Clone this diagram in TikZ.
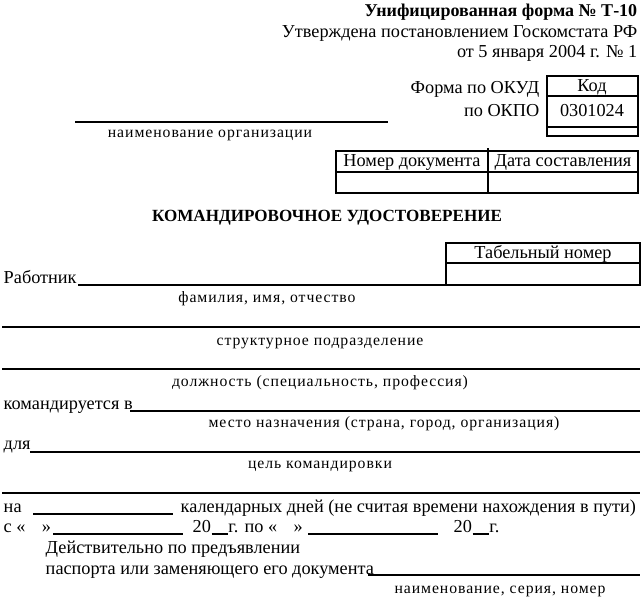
\documentclass[tikz,border=0pt]{standalone}
\usepackage{fontspec}
\setmainfont{Liberation Serif}
\newfontfamily\hintfont[LetterSpace=6]{Liberation Serif}
\usetikzlibrary{positioning}
\begin{document}
\begin{tikzpicture}[x=0.75pt,y=-0.75pt,line width=1.1pt,
        every node/.style={inner sep=0pt,font=\fontsize{13.7}{16}\selectfont}]
        \tikzstyle{hint}=[font=\hintfont\fontsize{11.8}{13}\selectfont]
        \tikzstyle{head}=[font=\bfseries\fontsize{13.5}{16}\selectfont]
        \tikzstyle{cell}=[line width=1.6pt]
        \useasboundingbox (0,0) rectangle (642,601);
        \node[head,anchor=base east](H1) at (638,16){Унифицированная форма № Т-10};
        \node[anchor=base east](H2) at (638,37){Утверждена постановлением Госкомстата РФ};
        \node[anchor=base east](H3) at (638,57){от 5 января 2004 г. № 1};
        \node[anchor=base east](okud) at (540,93){Форма по ОКУД};
        \node[anchor=base east](okpo) at (540,116){по ОКПО};
        \draw[cell] (547,76) rectangle (638,136);
        \draw[cell] (547,96) -- (638,96);
        \draw[cell] (547,127) -- (638,127);
        \node[anchor=base](kod) at (592,91){Код};
        \node[anchor=base](code) at (592,116){0301024};
        \draw[line width=2pt] (75,122) -- (388,122);
        \node[hint,anchor=base](org) at (210,137){наименование организации};
        \draw[cell] (336,151) rectangle (638,193);
        \draw[cell] (336,172) -- (638,172);
        \draw[cell] (488,148) -- (488,193);
        \node[anchor=base](docno) at (412,166){Номер документа};
        \node[anchor=base](docdate) at (563,166){Дата составления};
        \node[head,anchor=base,font=\bfseries\fontsize{12.8}{15}\selectfont](title) at (327,221){КОМАНДИРОВОЧНОЕ УДОСТОВЕРЕНИЕ};
        \draw[cell] (446,243) rectangle (640,285);
        \draw[cell] (446,263) -- (640,263);
        \node[anchor=base](tabno) at (543,258){Табельный номер};
        \node[anchor=base west](worker) at (3,283){Работник};
        \draw (78,285) -- (446,285);
        \node[hint,anchor=base](fio) at (267,302){фамилия, имя, отчество};
        \draw (2,327) -- (640,327);
        \node[hint,anchor=base](unit) at (320,345){структурное подразделение};
        \draw (2,369) -- (640,369);
        \node[hint,anchor=base](post) at (320,386){должность (специальность, профессия)};
        \node[anchor=base west](sent) at (3,409){командируется в};
        \draw (130,411) -- (640,411);
        \node[hint,anchor=base](dest) at (384,427){место назначения (страна, город, организация)};
        \node[anchor=base west](for) at (3,449){для};
        \draw (30,452) -- (640,452);
        \node[hint,anchor=base](goal) at (320,468){цель командировки};
        \draw (2,493) -- (640,493);
        \node[anchor=base west](on) at (3,512){на};
        \draw (33,514) -- (173,514);
        \node[anchor=base west](days) at (180,512){календарных дней (не считая времени нахождения в пути)};
        \node[anchor=base west](from) at (3,532){с «\hspace{0.9em}»};
        \draw (53,534) -- (183,534);
        \node[anchor=base west](yr1) at (192,532){20};
        \draw ([yshift=-1.5pt]yr1.base east) -- ++(16,0) coordinate (yr1end);
        \node[anchor=base west](till) at (yr1end |- yr1.base){г. по «\hspace{0.9em}»};
        \draw (308,534) -- (438,534);
        \node[anchor=base west](yr2) at (453,532){20};
        \draw ([yshift=-1.5pt]yr2.base east) -- ++(16,0) coordinate (yr2end);
        \node[anchor=base west](yrend) at (yr2end |- yr2.base){г.};
        \node[anchor=base west](valid) at (45,553){Действительно по предъявлении};
        \node[anchor=base west](pass) at (45,574){паспорта или заменяющего его документа};
        \draw (368,575) -- (640,575);
        \node[hint,anchor=base](passno) at (500,593){наименование, серия, номер};
\end{tikzpicture}
\end{document}
